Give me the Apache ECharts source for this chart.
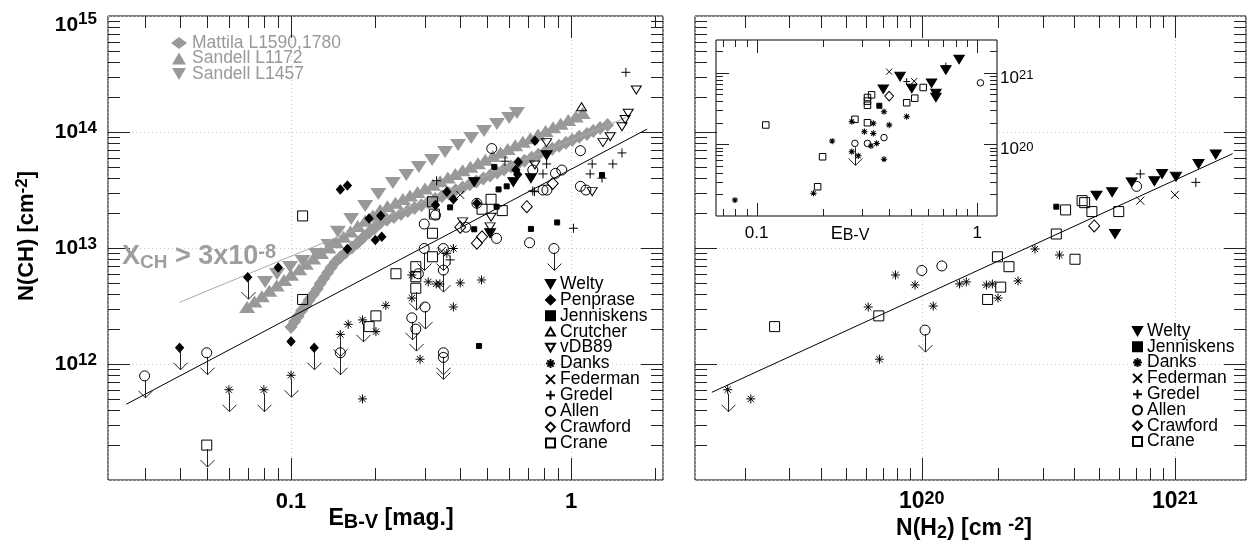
<!DOCTYPE html>
<html><head><meta charset="utf-8">
<script src="https://cdn.jsdelivr.net/npm/echarts@6/dist/echarts.min.js"></script>
<style>html,body{margin:0;padding:0;background:#fff}#c{width:1248px;height:546px}</style>
</head><body><div id="c"></div>
<script>
// ---------------- DATA ----------------
// Left panel: [E(B-V), N(CH), upperLimit]
const L_welty = [[0.451,3.7e13,0],[0.622,3.7e13,0],[0.719,4.0e13,0],[0.818,6.3e13,0],[0.514,1.34e13,0]];
const L_penprase = [[0.040,1.38e12,1],[0.070,5.6e12,1],[0.090,6.8e12,0],[0.100,1.56e12,0],[0.121,1.38e12,1],[0.150,3.2e13,0],[0.159,3.45e13,0],[0.190,1.8e13,0],[0.209,1.9e13,0],[0.200,1.17e13,0],[0.211,1.25e13,0],[0.159,9.8e12,0],[0.36,3.06e13,0],[0.38,2.63e13,0],[0.328,2.35e13,0],[0.461,2.43e13,0],[0.743,8.4e13,0],[0.648,5.5e13,0],[0.635,4.7e13,0],[0.645,4.3e13,0]];
const L_jenniskens = [[0.532,5.0e13,0],[0.551,3.2e13,0],[0.589,3.4e13,0],[0.37,2.24e13,0],[0.542,2.27e13,0],[0.451,1.45e13,0],[0.719,1.46e13,0],[0.469,1.43e12,0],[0.892,1.66e13,0],[1.29,4.26e13,0]];
const L_crutcher = [[1.09,1.65e14,0]];
const L_vdb89 = [[1.71,2.3e14,0],[1.60,1.45e14,0],[1.56,1.28e14,0],[1.52,1.11e14,0],[1.38,9.1e13,0],[1.30,8.1e13,0],[0.818,8.1e13,0],[0.743,5.2e13,0],[0.518,1.84e13,0],[1.19,3.06e13,0],[0.514,1.52e13,0],[0.41,1.68e13,0]];
const L_danks = [[0.060,6.0e11,1],[0.080,6.0e11,1],[0.100,8.0e11,1],[0.150,1.8e12,1],[0.160,2.2e12,0],[0.180,2.4e12,1],[0.180,5.0e11,0],[0.201,1.9e12,0],[0.218,3.2e12,0],[0.270,5.85e12,0],[0.309,5.1e12,0],[0.33,4.9e12,0],[0.34,4.9e12,0],[0.402,5.0e12,0],[0.479,5.3e12,0],[0.27,3.7e12,0],[0.38,3.1e12,0],[0.289,1.1e12,0],[0.36,9.0e12,0],[0.38,9.9e12,0]];
const L_federman = [[0.402,2.87e13,0],[0.345,9.4e12,0]];
const L_gredel = [[1.57,3.27e14,0],[0.581,5.6e13,0],[0.331,3.8e13,0],[0.73,3.1e13,0],[0.818,5.3e13,0],[0.794,4.35e13,0],[0.74,3.06e13,0],[1.52,6.6e13,0],[1.19,5.3e13,0],[1.41,5.3e13,0],[1.17,4.35e13,0],[1.29,4.0e13,0],[1.02,1.48e13,0],[0.37,7.9e12,0]];
const L_allen = [[0.030,7.9e11,1],[0.050,1.25e12,1],[0.150,1.25e12,1],[0.521,7.2e13,0],[0.794,3.16e13,0],[0.328,1.92e13,0],[0.299,1.61e13,0],[0.461,2.43e13,0],[0.421,1.51e13,0],[0.711,1.11e13,0],[0.542,1.21e13,0],[0.299,9.9e12,1],[0.35,9.9e12,1],[0.35,6.45e12,1],[0.285,6.0e12,0],[0.301,3.1e12,1],[0.27,2.5e12,1],[0.279,2.0e12,1],[0.35,1.25e12,1],[0.35,1.14e12,1],[1.08,6.9e13,0],[1.08,3.4e13,0],[1.13,3.16e13,0],[0.927,4.7e13,0],[0.88,4.4e13,0],[0.82,3.16e13,0],[0.869,9.9e12,1],[0.73,4.7e13,0]];
const L_crawford = [[0.695,2.27e13,0],[0.402,1.51e13,0],[0.461,1.1e13,0],[0.481,1.25e13,0],[0.86,3.6e13,0]];
const L_crane = [[0.050,2.0e11,1],[0.110,3.6e12,0],[0.110,1.89e13,0],[0.190,2.1e12,0],[0.201,2.6e12,0],[0.237,6.0e12,0],[0.279,6.9e12,0],[0.279,5.65e12,0],[0.279,4.5e12,1],[0.32,2.5e13,0],[0.325,1.96e13,0],[0.32,1.34e13,0],[0.32,8.4e12,0],[0.518,2.63e13,0],[0.481,2.16e13,0],[0.568,2.1e13,0]];
// grey dark-cloud series (left panel)
const G_mattila = [[0.100,2.08e12],[0.103,2.32e12],[0.106,2.58e12],[0.109,2.88e12],[0.113,3.21e12],[0.116,3.56e12],[0.120,3.97e12],[0.124,4.43e12],[0.127,4.92e12],[0.131,5.48e12],[0.135,6.11e12],[0.139,6.79e12],[0.144,7.57e12],[0.150,8.34e12],[0.157,9.18e12],[0.165,1.01e13],[0.173,1.11e13],[0.181,1.23e13],[0.190,1.36e13],[0.199,1.49e13],[0.208,1.64e13],[0.220,1.75e13],[0.233,1.85e13],[0.247,1.96e13],[0.261,2.08e13],[0.276,2.21e13],[0.292,2.34e13],[0.309,2.48e13],[0.327,2.64e13],[0.346,2.79e13],[0.366,2.96e13],[0.387,3.14e13],[0.410,3.33e13],[0.435,3.54e13],[0.459,3.75e13],[0.486,3.98e13],[0.514,4.22e13],[0.545,4.48e13],[0.576,4.75e13],[0.610,5.04e13],[0.646,5.35e13],[0.682,5.66e13],[0.723,6.01e13],[0.764,6.37e13],[0.809,6.76e13],[0.857,7.18e13],[0.906,7.60e13],[0.959,8.07e13],[1.01,8.55e13],[1.07,9.08e13],[1.14,9.62e13],[1.20,1.02e14],[1.27,1.08e14],[1.35,1.15e14]];
const G_l1172 = [[0.0697,3.10e12],[0.0740,3.45e12],[0.0787,3.84e12],[0.0836,4.27e12],[0.0889,4.75e12],[0.0944,5.30e12],[0.100,5.89e12],[0.107,6.56e12],[0.113,7.30e12],[0.120,8.13e12],[0.128,9.04e12],[0.136,1.01e13],[0.145,1.12e13],[0.154,1.25e13],[0.163,1.39e13],[0.173,1.55e13],[0.184,1.72e13],[0.196,1.91e13],[0.208,2.13e13],[0.221,2.29e13],[0.236,2.46e13],[0.251,2.64e13],[0.266,2.83e13],[0.283,3.04e13],[0.301,3.26e13],[0.321,3.51e13],[0.341,3.77e13],[0.363,4.05e13],[0.386,4.35e13],[0.410,4.67e13],[0.437,5.01e13],[0.465,5.37e13],[0.494,5.77e13],[0.526,6.20e13],[0.560,6.65e13],[0.594,7.14e13],[0.632,7.67e13],[0.673,8.24e13],[0.716,8.85e13],[0.762,9.51e13],[0.811,1.02e14],[0.863,1.10e14],[0.918,1.18e14],[0.977,1.27e14],[1.04,1.36e14],[1.10,1.46e14]];
const G_l1457 = [[0.0808,5.09e12],[0.0891,5.97e12],[0.0992,6.86e12],[0.110,7.72e12],[0.123,8.87e12],[0.136,1.06e13],[0.147,1.38e13],[0.164,1.78e13],[0.184,2.30e13],[0.205,2.92e13],[0.231,3.63e13],[0.258,4.26e13],[0.286,4.99e13],[0.319,5.74e13],[0.355,6.73e13],[0.395,7.73e13],[0.440,8.88e13],[0.489,1.02e14],[0.544,1.17e14],[0.601,1.32e14],[0.641,1.46e14]];
// fitted / reference lines, left panel
const L_fitLine = [[0.0258,4.5e11],[1.87,1.06e14]];
const L_xchLine = [[0.04,3.4e12],[1.58,1.34e14]];

// Right panel: [N(H2), N(CH), upperLimit]
const R_welty = [[4.9e20,2.83e13,0],[5.65e20,3.02e13,0],[5.8e20,1.32e13,0],[6.75e20,3.68e13,0],[8.3e20,3.76e13,0],[8.9e20,4.35e13,0],[1.01e21,4.12e13,0],[1.24e21,5.3e13,0],[1.45e21,6.4e13,0]];
const R_jenniskens = [[3.4e20,2.27e13,0]];
const R_danks = [[1.71e19,6.0e11,1],[2.11e19,5.0e11,0],[6.14e19,3.1e12,0],[6.8e19,1.1e12,0],[7.87e19,5.85e12,0],[9.4e19,4.8e12,0],[1.11e20,3.16e12,0],[1.41e20,4.9e12,0],[1.5e20,5.1e12,0],[1.8e20,4.8e12,0],[1.9e20,4.9e12,0],[2.0e20,3.7e12,0],[2.4e20,5.2e12,0],[2.8e20,9.8e12,0],[3.5e20,8.7e12,0]];
const R_federman = [[7.3e20,2.56e13,0],[1.0e21,2.87e13,0]];
const R_gredel = [[7.3e20,4.35e13,0],[1.21e21,3.68e13,0]];
const R_allen = [[1.0e20,6.4e12,0],[1.2e20,7.0e12,0],[1.03e20,1.96e12,1],[7.06e20,3.4e13,0]];
const R_crawford = [[4.8e20,1.55e13,0]];
const R_crane = [[2.62e19,2.1e12,0],[6.76e19,2.6e12,0],[1.82e20,3.6e12,0],[1.99e20,8.4e12,0],[2.21e20,6.9e12,0],[2.05e20,4.6e12,0],[4.03e20,8.0e12,0],[3.4e20,1.32e13,0],[3.7e20,2.13e13,0],[4.3e20,2.56e13,0],[4.4e20,2.46e13,0],[4.7e20,2.06e13,0],[6.0e20,2.06e13,0]];
const R_fitLine = [[1.48e19,5.7e11],[1.69e21,6.5e13]];

// Inset: [E(B-V), N(H2), upperLimit]
const I_welty = [[0.375,5.85e20,0],[0.447,8.8e20,0],[0.505,6.0e20,0],[0.621,7.1e20,0],[0.65,5.1e20,0],[0.65,4.5e20,0],[0.721,1.09e21,0],[0.828,1.53e21,0]];
const I_jenniskens = [[0.36,3.45e20,0]];
const I_danks = [[0.0797,1.67e19,0],[0.181,2.08e19,0],[0.220,1.11e20,0],[0.270,7.9e19,0],[0.289,6.9e19,0],[0.270,2.07e20,0],[0.338,1.96e20,0],[0.308,1.5e20,0],[0.338,1.42e20,0],[0.33,9.5e19,0],[0.35,1.03e20,0],[0.378,6.2e19,0],[0.399,1.86e20,0],[0.378,2.85e20,0],[0.479,2.43e20,0]];
const I_federman = [[0.399,1.03e21,0],[0.518,7.6e20,0]];
const I_gredel = [[0.479,7.5e20,0],[0.721,1.24e21,0]];
const I_allen = [[0.279,1.03e20,1],[0.318,1.03e20,0],[0.378,1.24e20,0],[1.035,7.2e20,0]];
const I_crawford = [[0.399,4.7e20,0]];
const I_crane = [[0.110,1.86e20,0],[0.199,6.7e19,0],[0.189,2.56e19,0],[0.279,2.23e20,0],[0.318,2.0e20,0],[0.318,4.5e20,0],[0.318,4.0e20,0],[0.318,3.5e20,0],[0.332,4.9e20,0],[0.479,3.8e20,0],[0.521,4.4e20,0],[0.569,6.2e20,0]];

// legend texts
const leftLegend = ['Welty','Penprase','Jenniskens','Crutcher','vDB89','Danks','Federman','Gredel','Allen','Crawford','Crane'];
const rightLegend = ['Welty','Jenniskens','Danks','Federman','Gredel','Allen','Crawford','Crane'];
const greyLegend = ['Mattila L1590,1780','Sandell L1172','Sandell L1457'];

// ---------------- STYLE ----------------
const FONT = '"Liberation Sans", Arial, Helvetica, sans-serif';
const CLEAR = 'rgba(255,255,255,0)';
const SYM = {
  asterisk: 'path://M5,0L5,10M0,5L10,5M1.5,1.5L8.5,8.5M1.5,8.5L8.5,1.5',
  cross: 'path://M0,0L10,10M0,10L10,0',
  plus: 'path://M5,0L5,10M0,5L10,5',
  down: 'path://M0,0L10,0L5,8.66Z',
  up: 'path://M5,0L10,8.66L0,8.66Z'
};
const ST = {
  Welty: {symbol:SYM.down, size:[11,9], fill:'#000'},
  Penprase: {symbol:'diamond', size:[8,9], fill:'#000'},
  Jenniskens: {symbol:'rect', size:[5,5], fill:'#000'},
  Crutcher: {symbol:SYM.up, size:[10,8], fill:CLEAR},
  vDB89: {symbol:SYM.down, size:[10,8], fill:CLEAR},
  Danks: {symbol:SYM.asterisk, size:[9,9], fill:CLEAR},
  Federman: {symbol:SYM.cross, size:[8,8], fill:CLEAR},
  Gredel: {symbol:SYM.plus, size:[9,9], fill:CLEAR},
  Allen: {symbol:'circle', size:[10,10], fill:CLEAR},
  Crawford: {symbol:'diamond', size:[11,12], fill:CLEAR},
  Crane: {symbol:'rect', size:[10,10], fill:CLEAR}
};
function sc(name, data, gi, k, z) {
  const s = ST[name];
  return {type:'scatter', name, data, xAxisIndex:gi, yAxisIndex:gi, symbol:s.symbol,
    symbolSize:[s.size[0]*k, s.size[1]*k], symbolKeepAspect:false,
    itemStyle:{color:s.fill, borderColor:'#000', borderWidth:1, opacity:1},
    z:z, silent:true, emphasis:{disabled:true}, animation:false};
}
function grey(name, data, symbol, size) {
  return {type:'scatter', name, data, xAxisIndex:0, yAxisIndex:0, symbol, symbolSize:size,
    symbolKeepAspect:false, itemStyle:{color:'#999999', borderWidth:0, opacity:1}, z:2, silent:true, emphasis:{disabled:true}};
}
function arrows(data, gi, len, z) {
  return {type:'custom', xAxisIndex:gi, yAxisIndex:gi, data, z, silent:true, clip:false,
    renderItem(params, api) {
      const p = api.coord([api.value(0), api.value(1)]);
      const x = Math.round(p[0]) + 0.5, y = p[1], h = 7;
      const st = {stroke:'#222', lineWidth:1, fill:null};
      return {type:'group', children:[
        {type:'line', shape:{x1:x, y1:y+4, x2:x, y2:y+len}, style:st},
        {type:'polyline', shape:{points:[[x-h, y+len-h],[x, y+len],[x+h, y+len-h]]}, style:st}
      ]};
    }};
}
function minors(lo, hi) {
  const r = [];
  for (let e = -3; e <= 22; e++) for (let m = 2; m <= 9; m++) {
    const v = m * Math.pow(10, e); if (v > lo * 1.0001 && v < hi * 0.9999) r.push(v);
  }
  return r;
}
function ticks(gi, xr, yr, xMaj, yMaj, lMaj, lMin, z) {
  const xMin = minors(xr[0], xr[1]), yMin = minors(yr[0], yr[1]);
  const xRef = Math.sqrt(xr[0]*xr[1]), yRef = Math.sqrt(yr[0]*yr[1]);
  return {type:'custom', xAxisIndex:gi, yAxisIndex:gi, data:[[xRef, yRef]], z, silent:true, clip:false,
    renderItem(params, api) {
      const cs = params.coordSys, ch = [];
      const st = {stroke:'#222', lineWidth:1};
      const add = (a,b,c,d) => ch.push({type:'line', shape:{x1:a,y1:b,x2:c,y2:d}, style:st});
      const x0 = cs.x, x1 = cs.x + cs.width, y0 = cs.y, y1 = cs.y + cs.height;
      xMaj.map(v=>[v,lMaj]).concat(xMin.map(v=>[v,lMin])).forEach(([v,L]) => {
        const px = Math.round(api.coord([v, yRef])[0]) + 0.5;
        if (px < x0 || px > x1) return;
        add(px, y1, px, y1 - L); add(px, y0, px, y0 + L);
      });
      yMaj.map(v=>[v,lMaj]).concat(yMin.map(v=>[v,lMin])).forEach(([v,L]) => {
        const py = Math.round(api.coord([xRef, v])[1]) + 0.5;
        if (py < y0 || py > y1) return;
        add(x0, py, x0 + L, py); add(x1, py, x1 - L, py);
      });
      return {type:'group', children:ch};
    }};
}
function line(data, gi, color, z) {
  return {type:'line', data, xAxisIndex:gi, yAxisIndex:gi, showSymbol:false, symbol:'none',
    lineStyle:{color, width:1}, z, silent:true, animation:false};
}
function pow10(v) { const l = Math.log10(v), r = Math.round(l); return Math.abs(l - r) < 1e-6 ? r : null; }

// axis ranges
const LX = [0.0222, 2.13], RX = [1.27e19, 1.91e21], YR = [1e11, 1e15], IX = [0.0654, 1.23], IY = [1e19, 2.85e21];

const bold = (fs, lh, extra) => Object.assign({fontSize:fs, fontWeight:'bold', fontFamily:FONT, color:'#000', lineHeight:lh}, extra||{});
const reg = (fs, lh, extra) => Object.assign({fontSize:fs, fontWeight:'normal', fontFamily:FONT, color:'#000', lineHeight:lh}, extra||{});
const gb = (fs, lh, extra) => Object.assign({fontSize:fs, fontWeight:'bold', fontFamily:FONT, fill:'#000', lineHeight:lh}, extra||{});
const gr = (fs, lh, extra) => Object.assign({fontSize:fs, fontWeight:'normal', fontFamily:FONT, fill:'#000', lineHeight:lh}, extra||{});
const split = {show:true, lineStyle:{color:'#c8c8c8', type:[1,3], width:1}};

function logAxis(gi, r, extra) {
  return Object.assign({type:'log', logBase:10, gridIndex:gi, min:r[0], max:r[1],
    axisLine:{show:false}, axisTick:{show:false}, splitLine:{show:false}}, extra);
}

const allUL = (arrs) => [].concat(...arrs).filter(d => d[2] === 1);
const XCH = '#9e9e9e';

const option = {
  animation:false,
  backgroundColor:'#fff',
  grid:[
    {left:108, top:16, width:555, height:464, show:true, borderColor:'#000', borderWidth:1, backgroundColor:'#fff', outerBoundsMode:'none', containLabel:false},
    {left:695, top:16, width:551, height:464, show:true, borderColor:'#000', borderWidth:1, backgroundColor:'#fff', outerBoundsMode:'none', containLabel:false},
    {left:716, top:40, width:281, height:176, show:true, borderColor:'#000', borderWidth:1, backgroundColor:'#fff', z:3, outerBoundsMode:'none', containLabel:false}
  ],
  xAxis:[
    logAxis(0, LX, {splitLine:split, axisLabel:{margin:10, formatter:v => { const e = pow10(v); return e === -1 ? '{b|0.1}' : e === 0 ? '{b|1}' : ''; }, rich:{b:bold(22,24)}}}),
    logAxis(1, RX, {splitLine:split, axisLabel:{margin:10, formatter:v => { const e = pow10(v); return (e === 20 || e === 21) ? '{b|10}{s|' + e + '}' : ''; }, rich:{b:bold(23,24), s:bold(18,1,{verticalAlign:'top'})}}}),
    logAxis(2, IX, {z:3, axisLabel:{margin:8, formatter:v => { const e = pow10(v); return e === -1 ? '{b|0.1}' : e === 0 ? '{b|1}' : ''; }, rich:{b:reg(17,18)}}})
  ],
  yAxis:[
    logAxis(0, YR, {splitLine:split, axisLabel:{margin:11, showMinLabel:false, formatter:v => { const e = pow10(v);
      if (e === 15) return '{b2|10}{s2|15}';
      return (e !== null && e >= 12) ? '{b|10}{s|' + e + '}' : ''; },
      rich:{b:bold(21,24), s:bold(17,8,{verticalAlign:'top'}), b2:bold(21,24,{padding:[18,0,0,0]}), s2:bold(17,8,{verticalAlign:'top', padding:[7,0,0,0]})}}}),
    logAxis(1, YR, {splitLine:split, axisLabel:{show:false}}),
    logAxis(2, IY, {z:3, position:'right', axisLabel:{margin:3, padding:[11,0,0,0], formatter:v => { const e = pow10(v); return (e === 20 || e === 21) ? '{b|10}{s|' + e + '}' : ''; }, rich:{b:reg(17,18), s:reg(13,1,{verticalAlign:'top'})}}})
  ],
  legend:[
    {data:leftLegend, orient:'vertical', left:545, top:275, padding:0, itemGap:-2.1, itemWidth:9, itemHeight:9, itemTextGap:3,
      selectedMode:false, textStyle:{fontSize:17.5, fontFamily:FONT, color:'#000', lineHeight:15.9}},
    {data:rightLegend, orient:'vertical', left:1132, top:322, padding:0, itemGap:-2.2, itemWidth:9, itemHeight:9, itemTextGap:3,
      selectedMode:false, textStyle:{fontSize:17.5, fontFamily:FONT, color:'#000', lineHeight:15.8}},
    {data:greyLegend, orient:'vertical', left:171, top:34, padding:0, itemGap:-2.5, itemWidth:16, itemHeight:12, itemTextGap:0,
      selectedMode:false, textStyle:{fontSize:17.5, fontFamily:FONT, color:'#999999', lineHeight:15.5}}
  ],
  graphic:[
    {type:'text', x:27, y:236, rotation:Math.PI/2, z:10, silent:true, style:{text:'{t|N(CH) [cm}{s|-2}{t|]}', align:'center', verticalAlign:'middle', fill:'#000',
      rich:{t:gb(22,26), s:gb(17,2,{verticalAlign:'top'})}}},
    {type:'text', x:391, y:519, z:10, silent:true, style:{text:'{t|E}{u|B-V}{t| [mag.]}', align:'center', verticalAlign:'middle', fill:'#000',
      rich:{t:gb(23,26), u:gb(20,8,{verticalAlign:'bottom'})}}},
    {type:'text', x:964, y:529, z:10, silent:true, style:{text:'{t|N(H}{u|2}{t|) [cm }{s|-2}{t|]}', align:'center', verticalAlign:'middle', fill:'#000',
      rich:{t:gb(23,26), u:gb(18,8,{verticalAlign:'bottom'}), s:gb(18,2,{verticalAlign:'top'})}}},
    {type:'text', x:850, y:234, z:10, silent:true, style:{text:'{t|E}{u|B-V}', align:'center', verticalAlign:'middle', fill:'#000',
      rich:{t:gr(18,20), u:gr(16,10,{verticalAlign:'bottom'})}}},
    {type:'text', x:122, y:257, z:10, silent:true, style:{text:'{t|X}{u|CH}{t| > 3x10}{s|-8}', align:'left', verticalAlign:'middle', fill:XCH,
      rich:{t:gb(27,30,{fill:XCH}), u:gb(19,14,{verticalAlign:'bottom', fill:XCH}), s:gb(20,6,{verticalAlign:'top', fill:XCH})}}}
  ],
  series:[
    // ticks
    ticks(0, LX, YR, [0.1,1], [1e12,1e13,1e14], 22, 12, 5),
    ticks(1, RX, YR, [1e20,1e21], [1e12,1e13,1e14], 22, 12, 5),
    ticks(2, IX, IY, [0.1,1], [1e20,1e21], 13, 7, 8),
    // grey clouds
    grey('Mattila L1590,1780', G_mattila, 'diamond', [13,14]),
    grey('Sandell L1172', G_l1172, SYM.up, [16,12]),
    grey('Sandell L1457', G_l1457, SYM.down, [16,12]),
    line(L_xchLine, 0, '#aaaaaa', 3),
    line(L_fitLine, 0, '#000', 3),
    line(R_fitLine, 1, '#000', 3),
    // left panel
    sc('Welty', L_welty, 0, 1, 4), sc('Penprase', L_penprase, 0, 1, 4), sc('Jenniskens', L_jenniskens, 0, 1, 4),
    sc('Crutcher', L_crutcher, 0, 1, 4), sc('vDB89', L_vdb89, 0, 1, 4), sc('Danks', L_danks, 0, 1, 4),
    sc('Federman', L_federman, 0, 1, 4), sc('Gredel', L_gredel, 0, 1, 4), sc('Allen', L_allen, 0, 1, 4),
    sc('Crawford', L_crawford, 0, 1, 4), sc('Crane', L_crane, 0, 1, 4),
    arrows(allUL([L_penprase, L_danks, L_allen, L_crane]), 0, 22, 4),
    // right panel
    sc('Welty', R_welty, 1, 1, 4), sc('Jenniskens', R_jenniskens, 1, 1, 4), sc('Danks', R_danks, 1, 1, 4),
    sc('Federman', R_federman, 1, 1, 4), sc('Gredel', R_gredel, 1, 1, 4), sc('Allen', R_allen, 1, 1, 4),
    sc('Crawford', R_crawford, 1, 1, 4), sc('Crane', R_crane, 1, 1, 4),
    arrows(allUL([R_danks, R_allen]), 1, 22, 4),
    // inset
    sc('Welty', I_welty, 2, 0.95, 7), sc('Jenniskens', I_jenniskens, 2, 1, 7), sc('Danks', I_danks, 2, 0.7, 7),
    sc('Federman', I_federman, 2, 0.75, 7), sc('Gredel', I_gredel, 2, 0.75, 7), sc('Allen', I_allen, 2, 0.65, 7),
    sc('Crawford', I_crawford, 2, 0.8, 7), sc('Crane', I_crane, 2, 0.65, 7),
    arrows(allUL([I_allen]), 2, 22, 7)
  ]
};
const chart = echarts.init(document.getElementById('c'), null, {renderer:'canvas'});
chart.setOption(option);
</script></body></html>
